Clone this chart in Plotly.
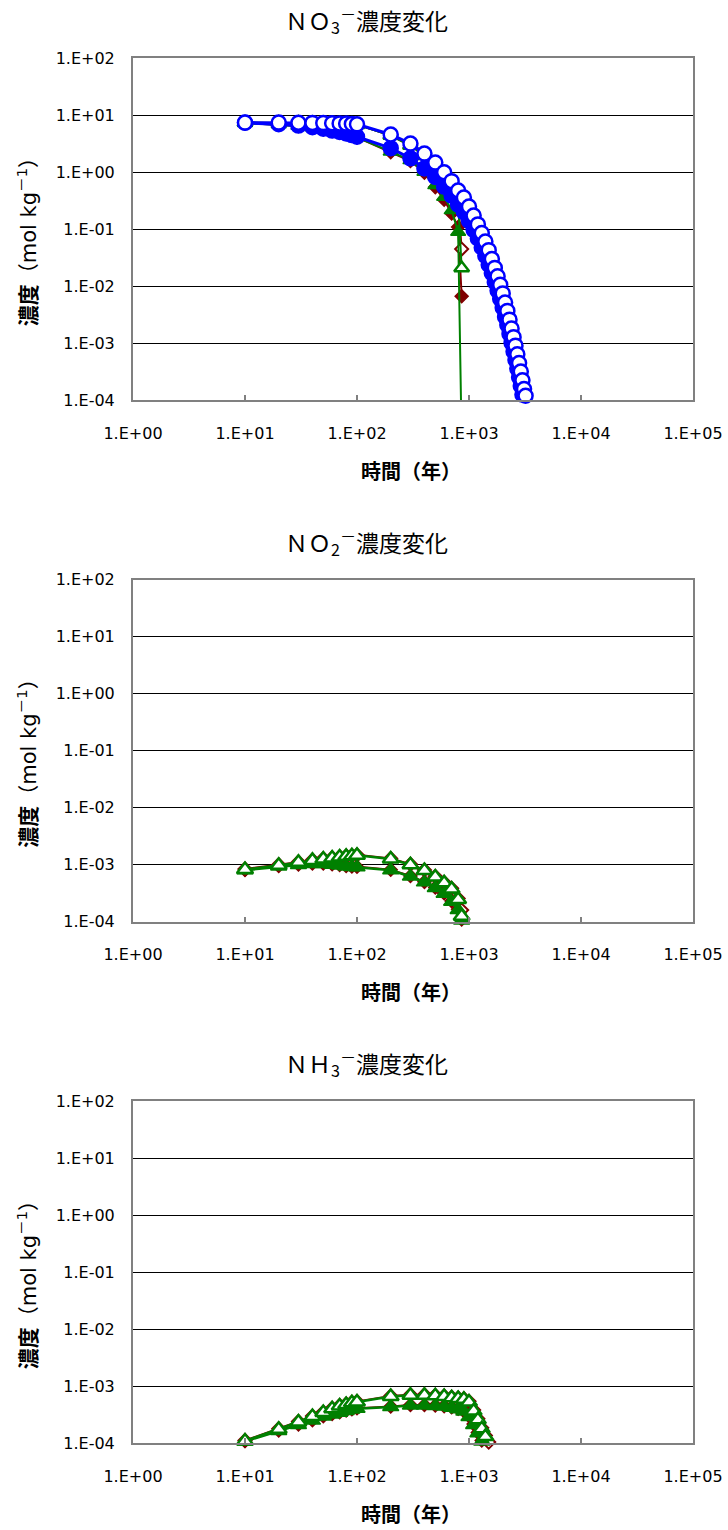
import plotly.graph_objects as go

# ---- time grids (years) ----
T_SHORT = [10, 20, 30, 40, 50, 60, 70, 80, 90, 100,
           200, 300, 400, 500, 600, 700, 800, 860]
T_SHORT_EXT = T_SHORT + [900]
T_BLUE_OPEN = [10, 20, 30, 40, 50, 60, 70, 80, 90, 100,
               200, 300, 400, 500, 600, 700, 800, 900, 1000, 1100,
               1200, 1300, 1400, 1500, 1600, 1700, 1800, 1900, 2000, 2100,
               2200, 2300, 2400, 2500, 2600, 2700, 2800, 2900, 3000, 3100, 3200]
T_BLUE_FILLED = T_BLUE_OPEN[:-2]
T_LONG = [10, 20, 30, 40, 50, 60, 70, 80, 90, 100,
          200, 300, 400, 500, 600, 700, 800, 900, 1000, 1100,
          1200, 1300, 1400, 1500]
T_LONG_FILLED = T_LONG[:-1]

# ---- NO3- (mol/kg) ----
no3_red_filled = [7.3, 6.9, 6.5, 6.1, 5.7, 5.3, 5.0, 4.7, 4.4, 4.1,
                  2.25, 1.58, 0.98, 0.55, 0.33, 0.19, 0.11, 0.0067]
no3_red_open = [7.4, 7.4, 7.35, 7.3, 7.25, 7.2, 7.1, 7.05, 6.95, 6.85,
                4.4, 2.95, 1.95, 1.3, 0.85, 0.55, 0.30, 0.045]
no3_green_filled = [7.3, 6.9, 6.5, 6.1, 5.7, 5.3, 5.0, 4.7, 4.4, 4.1,
                    2.3, 1.62, 1.01, 0.59, 0.37, 0.215, 0.09, 0.00002]
no3_green_open = [7.4, 7.4, 7.35, 7.3, 7.25, 7.2, 7.1, 7.05, 6.95, 6.85,
                  4.4, 2.95, 1.95, 1.3, 0.85, 0.55, 0.30, 0.021]
no3_blue_filled = [7.4, 7.0, 6.6, 6.2, 5.8, 5.4, 5.1, 4.8, 4.5, 4.2,
                   2.65, 1.76, 1.17, 0.83, 0.56, 0.39, 0.27, 0.20, 0.14, 0.098,
                   0.069, 0.048, 0.034, 0.024, 0.017, 0.0118, 0.0084, 0.0060, 0.0042, 0.0029,
                   0.0021, 0.00146, 0.00102, 0.00072, 0.00051, 0.00036, 0.000253, 0.000178, 0.000126]
no3_blue_open = [7.45, 7.45, 7.4, 7.35, 7.3, 7.25, 7.2, 7.15, 7.05, 6.95,
                 4.6, 3.19, 2.13, 1.48, 1.0, 0.70, 0.48, 0.36, 0.25, 0.174,
                 0.122, 0.086, 0.061, 0.043, 0.030, 0.021, 0.015, 0.0106, 0.0075, 0.0052,
                 0.0037, 0.0026, 0.00182, 0.00128, 0.00091, 0.00064, 0.00045, 0.00032, 0.000225, 0.000158,
                 0.000120]

# ---- NO2- (mol/kg) ----
no2_red_filled = [8.1e-4, 9.5e-4, 1.01e-3, 1.05e-3, 1.05e-3, 1.02e-3, 9.9e-4, 9.5e-4, 9.3e-4, 9.2e-4,
                  8.15e-4, 6.35e-4, 5.0e-4, 4.0e-4, 3.15e-4, 2.3e-4, 1.65e-4, 1.1e-4, 1e-6]
no2_red_open = [8.4e-4, 1.0e-3, 1.12e-3, 1.21e-3, 1.28e-3, 1.33e-3, 1.38e-3, 1.43e-3, 1.46e-3, 1.49e-3,
                1.29e-3, 1.02e-3, 8.1e-4, 6.25e-4, 4.9e-4, 3.85e-4, 2.55e-4, 1.6e-4]
no2_green_filled = [8.0e-4, 9.3e-4, 9.9e-4, 1.03e-3, 1.03e-3, 1.0e-3, 9.7e-4, 9.3e-4, 9.1e-4, 9.0e-4,
                    8.0e-4, 6.2e-4, 4.9e-4, 3.9e-4, 3.1e-4, 2.25e-4, 1.6e-4, 1.05e-4, 1e-6]
no2_green_open = [8.2e-4, 9.8e-4, 1.10e-3, 1.19e-3, 1.26e-3, 1.31e-3, 1.36e-3, 1.40e-3, 1.43e-3, 1.46e-3,
                  1.26e-3, 1.0e-3, 7.9e-4, 6.1e-4, 4.8e-4, 3.75e-4, 2.45e-4, 1.25e-4]

# ---- NH3- (mol/kg) ----
nh3_red_filled = [1.1e-4, 1.68e-4, 2.15e-4, 2.55e-4, 3.0e-4, 3.27e-4, 3.52e-4, 3.77e-4, 3.97e-4, 4.12e-4,
                  4.43e-4, 4.7e-4, 4.7e-4, 4.6e-4, 4.5e-4, 4.3e-4, 4.05e-4, 3.7e-4, 3.0e-4, 2.17e-4,
                  1.55e-4, 1.12e-4, 7.8e-5]
nh3_red_open = [1.12e-4, 1.8e-4, 2.42e-4, 3.0e-4, 3.53e-4, 4.13e-4, 4.6e-4, 4.9e-4, 5.27e-4, 5.42e-4,
                6.75e-4, 7.1e-4, 7.1e-4, 6.95e-4, 6.75e-4, 6.45e-4, 6.25e-4, 6.05e-4, 5.45e-4, 3.85e-4,
                2.7e-4, 1.87e-4, 1.37e-4, 1.05e-4]
nh3_green_filled = [1.08e-4, 1.65e-4, 2.1e-4, 2.5e-4, 2.95e-4, 3.2e-4, 3.45e-4, 3.7e-4, 3.9e-4, 4.05e-4,
                    4.35e-4, 4.6e-4, 4.6e-4, 4.5e-4, 4.4e-4, 4.2e-4, 3.95e-4, 3.6e-4, 2.9e-4, 2.1e-4,
                    1.5e-4, 1.08e-4, 7.5e-5]
nh3_green_open = [1.1e-4, 1.76e-4, 2.37e-4, 2.94e-4, 3.46e-4, 4.05e-4, 4.5e-4, 4.8e-4, 5.15e-4, 5.3e-4,
                  6.6e-4, 6.95e-4, 6.95e-4, 6.8e-4, 6.6e-4, 6.3e-4, 6.1e-4, 5.9e-4, 5.3e-4, 3.7e-4,
                  2.6e-4, 1.8e-4, 1.31e-4, 9.8e-5]

# ---- axis labels ----
X_TICKVALS = [1, 10, 100, 1000, 10000, 100000]
X_TICKTEXT = ["1.E+00", "1.E+01", "1.E+02", "1.E+03", "1.E+04", "1.E+05"]
Y_TICKVALS = [1e-4, 1e-3, 1e-2, 1e-1, 1, 10, 100]
Y_TICKTEXT = ["1.E-04", "1.E-03", "1.E-02", "1.E-01", "1.E+00", "1.E+01", "1.E+02"]

TITLES = ["ＮＯ<sub>3</sub><sup>－</sup>濃度変化",
          "ＮＯ<sub>2</sub><sup>－</sup>濃度変化",
          "ＮＨ<sub>3</sub><sup>－</sup>濃度変化"]
X_TITLE = "<b>時間（年）</b>"
Y_TITLE = "<b>濃度</b>（mol kg<sup>－1</sup>）"

RED = "#800000"
GREEN = "#008000"
BLUE = "#0000FF"

FONT = "DejaVu Sans, Noto Sans CJK JP, sans-serif"
W, H = 728, 1530
PLOT_LEFT, PLOT_RIGHT = 133, 693
PLOT_TOPS = [58.3, 579.7, 1101.3]
PLOT_H = 342.0

fig = go.Figure()


def axis_names(k):
    return ("x", "y") if k == 0 else (f"x{k + 1}", f"y{k + 1}")


def add_series(k, t, v, color, symbol, filled, msize, lw, mlw):
    xa, ya = axis_names(k)
    fig.add_trace(go.Scatter(
        x=t, y=v, mode="lines", xaxis=xa, yaxis=ya,
        line=dict(color=color, width=lw), cliponaxis=True, hoverinfo="skip"))
    keep = [i for i, val in enumerate(v) if val >= 9e-5]
    fig.add_trace(go.Scatter(
        x=[t[i] for i in keep], y=[v[i] for i in keep], mode="markers",
        xaxis=xa, yaxis=ya, cliponaxis=False,
        marker=dict(symbol=symbol, size=msize,
                    color=color if filled else "white",
                    line=dict(color=color, width=mlw))))


# NO3-
add_series(0, T_SHORT, no3_red_filled, RED, "diamond", True, 10, 2, 1.5)
add_series(0, T_SHORT, no3_red_open, RED, "diamond", False, 10, 2, 2)
add_series(0, T_SHORT, no3_green_filled, GREEN, "triangle-up", True, 13, 2, 1.5)
add_series(0, T_SHORT, no3_green_open, GREEN, "triangle-up", False, 13, 2, 2.5)
add_series(0, T_BLUE_FILLED, no3_blue_filled, BLUE, "circle", True, 14, 3, 2.5)
add_series(0, T_BLUE_OPEN, no3_blue_open, BLUE, "circle", False, 14, 3, 2.5)

# NO2-
add_series(1, T_SHORT_EXT, no2_red_filled, RED, "diamond", True, 10, 2, 1.5)
add_series(1, T_SHORT, no2_red_open, RED, "diamond", False, 10, 2, 2)
add_series(1, T_SHORT_EXT, no2_green_filled, GREEN, "triangle-up", True, 14, 2.5, 1.5)
add_series(1, T_SHORT, no2_green_open, GREEN, "triangle-up", False, 14, 2.5, 2.5)

# NH3-
add_series(2, T_LONG_FILLED, nh3_red_filled, RED, "diamond", True, 10, 2, 1.5)
add_series(2, T_LONG, nh3_red_open, RED, "diamond", False, 10, 2, 2)
add_series(2, T_LONG_FILLED, nh3_green_filled, GREEN, "triangle-up", True, 14, 2.5, 1.5)
add_series(2, T_LONG, nh3_green_open, GREEN, "triangle-up", False, 14, 2.5, 2.5)

layout = dict(
    width=W, height=H, margin=dict(l=0, r=0, t=0, b=0, pad=0, autoexpand=False),
    paper_bgcolor="white", plot_bgcolor="white", showlegend=False,
    font=dict(family=FONT, color="black"),
)

annotations = []
for k in range(3):
    top = PLOT_TOPS[k]
    bottom = top + PLOT_H
    ydom = [1 - bottom / H, 1 - top / H]
    xdom = [PLOT_LEFT / W, PLOT_RIGHT / W]
    xkey = "xaxis" if k == 0 else f"xaxis{k + 1}"
    ykey = "yaxis" if k == 0 else f"yaxis{k + 1}"
    xa, ya = axis_names(k)
    layout[xkey] = dict(
        type="log", range=[0, 5], domain=xdom, anchor=ya, automargin=False,
        tickvals=X_TICKVALS, ticktext=X_TICKTEXT,
        ticks="inside", ticklen=5, tickwidth=1.5, tickcolor="#808080",
        ticklabelstandoff=17,
        showline=True, linecolor="#808080", linewidth=2, mirror=True,
        showgrid=False, zeroline=False,
        tickfont=dict(family=FONT, size=16, color="black"),
    )
    layout[ykey] = dict(
        type="log", range=[-4, 2], domain=ydom, anchor=xa, automargin=False,
        tickvals=Y_TICKVALS, ticktext=Y_TICKTEXT,
        ticks="", ticklabelstandoff=13,
        showline=True, linecolor="#808080", linewidth=2, mirror=True,
        showgrid=True, gridcolor="black", gridwidth=1, zeroline=False,
        tickfont=dict(family=FONT, size=16, color="black"),
    )
    # chart title
    annotations.append(dict(
        text=TITLES[k], x=366 / W, y=1 - (top - 38) / H, xref="paper", yref="paper",
        xanchor="center", yanchor="middle", showarrow=False,
        font=dict(family="Noto Sans CJK JP, sans-serif", size=23, color="black")))
    # x-axis title
    annotations.append(dict(
        text=X_TITLE, x=411 / W, y=1 - (bottom + 70) / H, xref="paper", yref="paper",
        xanchor="center", yanchor="middle", showarrow=False,
        font=dict(family="Noto Sans CJK JP, sans-serif", size=20, color="black")))
    # y-axis title
    annotations.append(dict(
        text=Y_TITLE, x=27 / W, y=1 - (top + PLOT_H / 2 + 8) / H, xref="paper", yref="paper",
        xanchor="center", yanchor="middle", showarrow=False, textangle=-90,
        font=dict(family=FONT, size=21, color="black")))

layout["annotations"] = annotations
fig.update_layout(**layout)
fig.write_html("out.html")
